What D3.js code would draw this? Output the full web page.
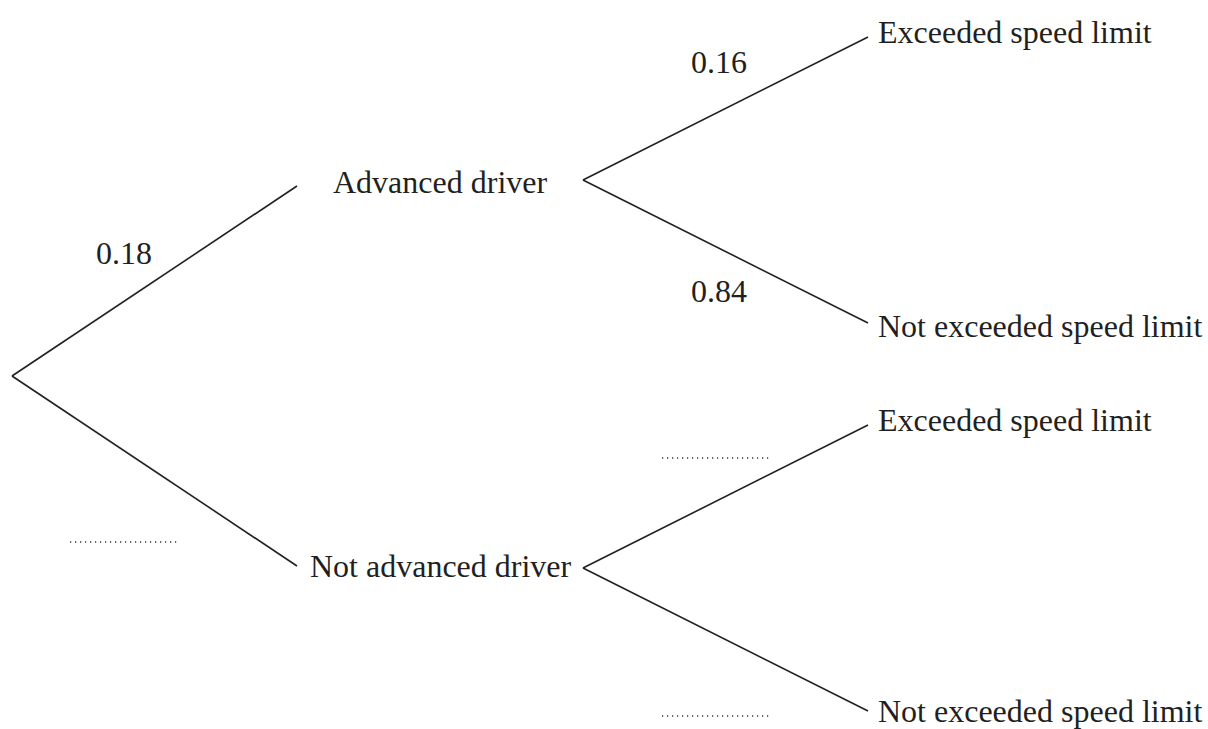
<!DOCTYPE html>
<meta charset="utf-8">
<style>
  body { margin: 0; background: #fff; }
  .branch { stroke: #231f20; stroke-width: 1.6; fill: none; }
  .blank { stroke: #333; stroke-width: 1.4; stroke-dasharray: 1.2 3.8; }
</style>
<body>
<svg width="1208" height="729"></svg>
<script src="https://d3js.org/d3.v7.min.js"></script>
<script>
// first stage of the tree
var firstEvents = ["Advanced driver", "Not advanced driver"]
var firstProbs = ["0.18", null]        // null = blank to fill in

// second stage, one row per first-stage outcome
var secondEvents = ["Exceeded speed limit", "Not exceeded speed limit"]
var secondProbs = [["0.16", "0.84"], [null, null]]

var serif = "'Liberation Serif', 'DejaVu Serif', serif"

var svg = d3.select("svg")

// horizontal placement by tree column
var x = d3.scaleOrdinal()
  .domain(["root", "branchEnd", "fork", "leaf"])
  .range([12, 297, 583, 868])

// vertical placement of the two first-stage outcomes
var yFirst = d3.scaleLinear().domain([0, 1]).range([186, 566])
var forkY = [180, 568]
var spread = 143
var rootY = (yFirst(0) + yFirst(1)) / 2

// label positions (centre x, baseline offset) relative to joints
var firstLabelPos = [{ cx: 124, dy: -112 }, { cx: 124, dy: 166 }]
var secondLabelPos = [
  [{ cx: 719, dy: -107 }, { cx: 719, dy: 122 }],
  [{ cx: 716, dy: -110 }, { cx: 716, dy: 148 }]
]
var firstTextX = [333, 310]
var firstTextY = [193, 577]
var leafBase = [[6, 14], [6, 11]]

function addText(g, tx, ty, str) {
  return g.append("text").attr("x", tx).attr("y", ty)
    .style("font-family", serif).style("font-size", "32px")
    .attr("fill", "#231f20").text(str)
}

function probLabel(g, value, cx, y) {
  if (value) {
    addText(g, cx, y, value).attr("text-anchor", "middle")
  } else {
    g.append("line").attr("class", "blank")
      .attr("x1", cx - 54).attr("x2", cx + 54)
      .attr("y1", y).attr("y2", y)
  }
}

var g = svg.append("g")

firstEvents.forEach(function (ev, i) {
  g.append("line").attr("class", "branch")
    .attr("x1", x("root")).attr("y1", rootY)
    .attr("x2", x("branchEnd")).attr("y2", yFirst(i))

  addText(g, firstTextX[i], firstTextY[i], ev)
  probLabel(g, firstProbs[i], firstLabelPos[i].cx, rootY + firstLabelPos[i].dy)

  secondEvents.forEach(function (ev2, j) {
    var ly = forkY[i] + (j === 0 ? -spread : spread)
    g.append("line").attr("class", "branch")
      .attr("x1", x("fork")).attr("y1", forkY[i])
      .attr("x2", x("leaf")).attr("y2", ly)

    addText(g, x("leaf") + 10, ly + leafBase[i][j], ev2)
    probLabel(g, secondProbs[i][j], secondLabelPos[i][j].cx, forkY[i] + secondLabelPos[i][j].dy)
  })
})
</script>
</body>
